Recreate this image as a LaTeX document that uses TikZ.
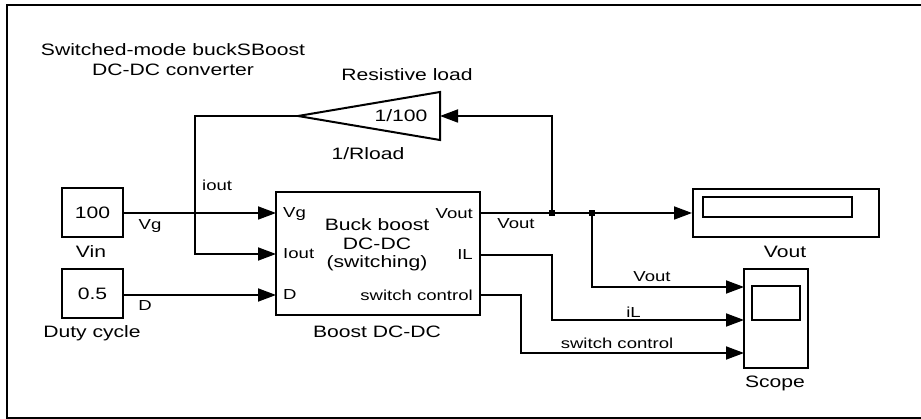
\documentclass[tikz,border=0pt]{standalone}
\usepackage{fontspec}
\setmainfont{Liberation Sans}[FakeStretch=1.28]
\usetikzlibrary{arrows.meta}
\begin{document}
\begin{tikzpicture}[x=1pt,y=-1pt,
  blk/.style={draw,line width=2pt,inner sep=0pt},
  big/.style={font=\fontsize{16.5}{18}\selectfont,inner sep=0pt},
  sml/.style={font=\fontsize{14.5}{16}\selectfont,inner sep=0pt},
  wire/.style={line width=1.8pt},
  arr/.style={wire,-{Triangle[length=18pt,width=13pt]}},
  jdot/.style={fill,minimum size=6pt,inner sep=0pt}]
\useasboundingbox (0,0) rectangle (921,419);
\draw[line width=2.5pt] (921,5) -- (7,5) -- (7,418) -- (921,418);

% title
\node[big] (t1) at (173,50) {Switched-mode buckSBoost};
\node[big] (t2) at (173,70) {DC-DC converter};

% sources
\node[blk,big,minimum width=61pt,minimum height=49pt] (vin) at (92.5,212.5) {100};
\node[big] (vinl) at (91,252) {Vin};
\node[blk,big,minimum width=61pt,minimum height=49pt] (duty) at (92.5,293.5) {0.5};
\node[big] (dutyl) at (92,333) {Duty cycle};

% main block
\node[blk,minimum width=204pt,minimum height=123pt] (bb) at (378,253.5) {};
\node[big] (bb1) at (377,225) {Buck boost};
\node[big] (bb2) at (377,244) {DC-DC};
\node[big] (bb3) at (377,263) {(switching)};
\node[big] (bbl) at (377,332) {Boost DC-DC};
\coordinate (pVg) at (276,213);
\coordinate (pIo) at (276,254);
\coordinate (pD) at (276,295);
\coordinate (pVo) at (480,213);
\coordinate (pIL) at (480,255);
\coordinate (pSw) at (480,295);
\node[sml,anchor=west] (lVg) at (283,214) {Vg};
\node[sml,anchor=west] (lIo) at (283,254) {Iout};
\node[sml,anchor=west] (lD) at (283,295) {D};
\node[sml,anchor=east] (lVo) at (473,214) {Vout};
\node[sml,anchor=east] (lIL) at (473,255) {IL};
\node[sml,anchor=east] (lSw) at (473,295) {switch control};

% gain
\coordinate (gtip) at (298,116);
\coordinate (gin) at (440,116);
\draw[line width=2pt,line join=miter] (gtip) -- (440,92) -- (440,140) -- cycle;
\node[big] (gval) at (401,116) {1/100};
\node[big] (gt) at (407,75) {Resistive load};
\node[big] (gb) at (368,154) {1/Rload};

% display
\node[blk,minimum width=186pt,minimum height=48pt] (disp) at (786,213) {};
\draw[line width=2pt] (703,197) rectangle (852,217);
\node[big] (displ) at (785,252) {Vout};

% scope
\node[blk,minimum width=64pt,minimum height=99pt] (scope) at (776,318.5) {};
\draw[line width=2pt] (752,286) rectangle (800,320);
\node[big] (scopel) at (775,383) {Scope};
\coordinate (s1) at (744,287);
\coordinate (s2) at (744,320);
\coordinate (s3) at (744,353);

% wires
\coordinate (ic) at (195,116);
\coordinate (j1) at (552,213);
\coordinate (j2) at (592,213);
\coordinate (c3) at (521,295);
\draw[arr] (pVg -| vin.east) -- (pVg);
\draw[arr] (pD -| duty.east) -- (pD);
\draw[arr] (gtip) -- (ic) |- (pIo);
\draw[arr] (pVo) -- (disp.west);
\draw[arr] (j1) |- (gin);
\draw[arr] (j2) |- (s1);
\draw[arr] (pIL) -- (pIL -| j1) |- (s2);
\draw[arr] (pSw) -- (c3) |- (s3);
\node[jdot] (d1) at (j1) {};
\node[jdot] (d2) at (j2) {};

% wire labels
\node[sml] (wVg) at (150,226) {Vg};
\node[sml] (wD) at (145,306) {D};
\node[sml,anchor=west] (wio) at (202,185) {iout};
\node[sml] (wVo) at (516,224) {Vout};
\node[sml] (wV2) at (652,277) {Vout};
\node[sml] (wiL) at (633.5,312) {iL};
\node[sml] (wsw) at (617,343) {switch control};
\end{tikzpicture}
\end{document}
